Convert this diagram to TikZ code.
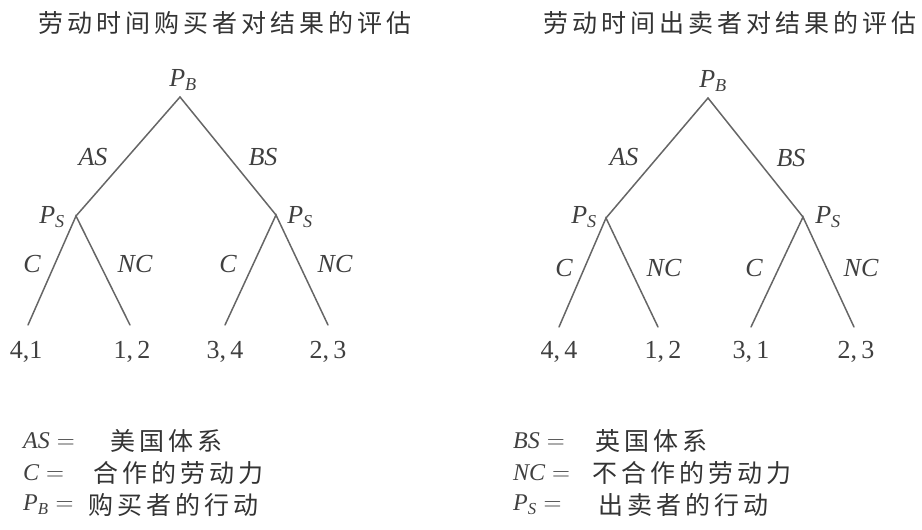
\documentclass[tikz,border=0pt]{standalone}
\usepackage{fontspec}
\setmainfont{Liberation Serif}
\newfontfamily\cjk[LetterSpace=16]{Noto Sans CJK SC}
\usepackage{tikz}

\newcommand{\pl}[1]{\ensuremath{\mathit{#1}}}

\tikzset{
    branch/.style={line width=1.5pt, black!60, line cap=round},
    lbl/.style={font=\fontsize{26}{28}\selectfont, text=black!75, inner sep=0pt},
    pay/.style={font=\fontsize{26}{28}\selectfont, text=black!75, inner sep=0pt},
    ttl/.style={font=\cjk\fontsize{25}{28}\selectfont, text=black!80, inner sep=0pt},
    keysym/.style={font=\fontsize{24}{26}\selectfont, text=black!75, inner sep=0pt, anchor=west},
    keytxt/.style={font=\cjk\fontsize{25}{28}\selectfont, text=black!80, inner sep=0pt, anchor=west}
}

\begin{document}
\begin{tikzpicture}[x=1pt, y=-1pt]
    \useasboundingbox (0,0) rectangle (922,530);

    % left tree: buyer's evaluation
    \node[ttl] (titleL) at (225,23) {劳动时间购买者对结果的评估};
    \coordinate (rootL) at (180,97);
    \coordinate (psLa) at (76,216);
    \coordinate (psLb) at (276,215);
    \coordinate (leafLa) at (28,325);
    \coordinate (leafLb) at (130,325);
    \coordinate (leafLc) at (225,325);
    \coordinate (leafLd) at (328,325);
    \draw[branch] (psLa) -- (rootL) -- (psLb);
    \draw[branch] (leafLa) -- (psLa) -- (leafLb);
    \draw[branch] (leafLc) -- (psLb) -- (leafLd);

    \node[lbl] (pbL) at (183,80) {$\pl{P}_{\pl{B}}$};
    \node[lbl] (asL) at (93,157) {$\pl{AS}$};
    \node[lbl] (bsL) at (263,157) {$\pl{BS}$};
    \node[lbl] (psLaT) at (52,217) {$\pl{P}_{\pl{S}}$};
    \node[lbl] (psLbT) at (300,217) {$\pl{P}_{\pl{S}}$};
    \node[lbl] (cLa) at (32,264) {$\pl{C}$};
    \node[lbl] (ncLa) at (135,264) {$\pl{NC}$};
    \node[lbl] (cLb) at (228,264) {$\pl{C}$};
    \node[lbl] (ncLb) at (335,264) {$\pl{NC}$};

    \node[pay] (payLa) at (26,352) {4,1};
    \node[pay] (payLb) at (132,352) {1,\,2};
    \node[pay] (payLc) at (225,352) {3,\,4};
    \node[pay] (payLd) at (328,352) {2,\,3};

    % right tree: seller's evaluation
    \node[ttl] (titleR) at (730,23) {劳动时间出卖者对结果的评估};
    \coordinate (rootR) at (708,98);
    \coordinate (psRa) at (606,218);
    \coordinate (psRb) at (803,217);
    \coordinate (leafRa) at (559,327);
    \coordinate (leafRb) at (658,327);
    \coordinate (leafRc) at (751,327);
    \coordinate (leafRd) at (854,327);
    \draw[branch] (psRa) -- (rootR) -- (psRb);
    \draw[branch] (leafRa) -- (psRa) -- (leafRb);
    \draw[branch] (leafRc) -- (psRb) -- (leafRd);

    \node[lbl] (pbR) at (713,81) {$\pl{P}_{\pl{B}}$};
    \node[lbl] (asR) at (624,157) {$\pl{AS}$};
    \node[lbl] (bsR) at (791,158) {$\pl{BS}$};
    \node[lbl] (psRaT) at (584,217) {$\pl{P}_{\pl{S}}$};
    \node[lbl] (psRbT) at (828,217) {$\pl{P}_{\pl{S}}$};
    \node[lbl] (cRa) at (564,268) {$\pl{C}$};
    \node[lbl] (ncRa) at (664,268) {$\pl{NC}$};
    \node[lbl] (cRb) at (754,268) {$\pl{C}$};
    \node[lbl] (ncRb) at (861,268) {$\pl{NC}$};

    \node[pay] (payRa) at (559,352) {4,\,4};
    \node[pay] (payRb) at (663,352) {1,\,2};
    \node[pay] (payRc) at (751,352) {3,\,1};
    \node[pay] (payRd) at (856,352) {2,\,3};

    % legend
    \node[keysym] (kAS) at (23,441) {$\pl{AS} =$};
    \node[keytxt] (tAS) at (110,441) {美国体系};
    \node[keysym] (kC) at (23,473) {$\pl{C} =$};
    \node[keytxt] (tC) at (93,473) {合作的劳动力};
    \node[keysym] (kPB) at (23,505) {$\pl{P}_{\pl{B}} =$};
    \node[keytxt] (tPB) at (88,505) {购买者的行动};

    \node[keysym] (kBS) at (513,441) {$\pl{BS} =$};
    \node[keytxt] (tBS) at (595,441) {英国体系};
    \node[keysym] (kNC) at (513,473) {$\pl{NC} =$};
    \node[keytxt] (tNC) at (592,473) {不合作的劳动力};
    \node[keysym] (kPS) at (513,505) {$\pl{P}_{\pl{S}} =$};
    \node[keytxt] (tPS) at (598,505) {出卖者的行动};
\end{tikzpicture}
\end{document}
